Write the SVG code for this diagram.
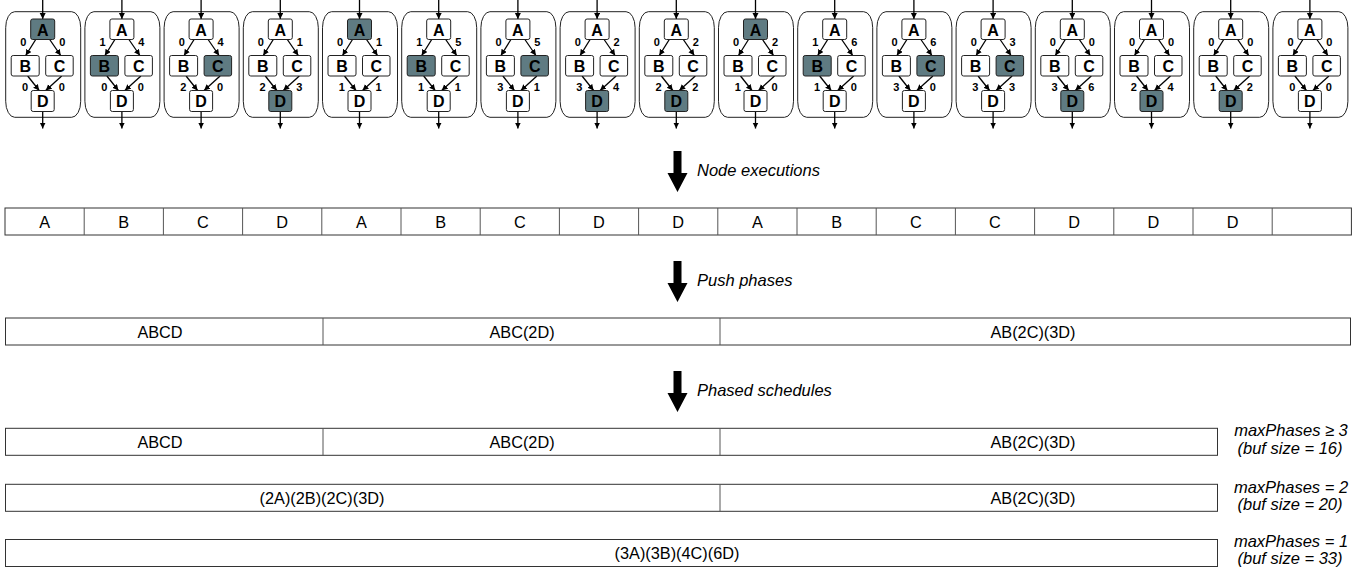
<svg xmlns="http://www.w3.org/2000/svg" xmlns:xlink="http://www.w3.org/1999/xlink" width="1367" height="572" viewBox="0 0 1367 572">
<style>
.panel{fill:#fff;stroke:#222;stroke-width:1}
.n{fill:#fff;stroke:#222;stroke-width:1}
.s{fill:#5f7b82;stroke:#222;stroke-width:1}
.nl{font-family:"Liberation Sans",Arial,sans-serif;font-weight:bold;font-size:16px;text-anchor:middle;fill:#000}
.el{font-family:"Liberation Sans",Arial,sans-serif;font-weight:bold;font-size:11px;text-anchor:middle;fill:#000}
.e{stroke:#000;stroke-width:1.3;fill:none;marker-end:url(#ah)}
.cell{fill:#fff;stroke:#333;stroke-width:1}
.div{stroke:#555;stroke-width:1}
.ct{font-family:"Liberation Sans",Arial,sans-serif;font-size:16.3px;text-anchor:middle;fill:#000}
.it{font-family:"Liberation Sans",Arial,sans-serif;font-style:italic;font-size:16.5px;fill:#000}
.big{fill:#000}
</style>
<defs>
<marker id="ah" markerUnits="userSpaceOnUse" markerWidth="7" markerHeight="7" refX="6" refY="3" orient="auto"><path d="M0,0 L6,3 L0,6 Z" fill="#000"/></marker>
<g id="skel">
<rect class="panel" x="0" y="11.7" width="75" height="105.6" rx="9" ry="16"/>
<g class="connectors">
<line class="e" x1="37" y1="0" x2="37" y2="19"/>
<line class="e" x1="37" y1="111.5" x2="37" y2="128.5"/>
<line class="e" x1="30" y1="39.5" x2="20" y2="55.5"/>
<line class="e" x1="44" y1="39.5" x2="55" y2="55.5"/>
<line class="e" x1="22" y1="76" x2="33.5" y2="90.5"/>
<line class="e" x1="56" y1="76" x2="40" y2="90.5"/>
</g>
</g>
</defs>

<!-- panels -->
<g id="p1" transform="translate(5.7,0)"><use xlink:href="#skel"/>
<rect class="s" x="25" y="19" width="24" height="20.5" rx="2"/><rect class="n" x="5.5" y="55.5" width="28" height="20.5" rx="2"/><rect class="n" x="40" y="55.5" width="27.5" height="20.5" rx="2"/><rect class="n" x="25.5" y="90.5" width="23" height="21" rx="2"/>
<text class="nl" x="37" y="35.5">A</text><text class="nl" x="19.5" y="72.2">B</text><text class="nl" x="53.8" y="72.2">C</text><text class="nl" x="37" y="107.3">D</text>
<text class="el" x="17.6" y="46">0</text><text class="el" x="56.5" y="46">0</text><text class="el" x="19.3" y="90.5">0</text><text class="el" x="56" y="90.5">0</text></g>

<g id="p2" transform="translate(84.9,0)"><use xlink:href="#skel"/>
<rect class="n" x="25" y="19" width="24" height="20.5" rx="2"/><rect class="s" x="5.5" y="55.5" width="28" height="20.5" rx="2"/><rect class="n" x="40" y="55.5" width="27.5" height="20.5" rx="2"/><rect class="n" x="25.5" y="90.5" width="23" height="21" rx="2"/>
<text class="nl" x="37" y="35.5">A</text><text class="nl" x="19.5" y="72.2">B</text><text class="nl" x="53.8" y="72.2">C</text><text class="nl" x="37" y="107.3">D</text>
<text class="el" x="17.6" y="46">1</text><text class="el" x="56.5" y="46">4</text><text class="el" x="19.3" y="90.5">0</text><text class="el" x="56" y="90.5">0</text></g>

<g id="p3" transform="translate(164.1,0)"><use xlink:href="#skel"/>
<rect class="n" x="25" y="19" width="24" height="20.5" rx="2"/><rect class="n" x="5.5" y="55.5" width="28" height="20.5" rx="2"/><rect class="s" x="40" y="55.5" width="27.5" height="20.5" rx="2"/><rect class="n" x="25.5" y="90.5" width="23" height="21" rx="2"/>
<text class="nl" x="37" y="35.5">A</text><text class="nl" x="19.5" y="72.2">B</text><text class="nl" x="53.8" y="72.2">C</text><text class="nl" x="37" y="107.3">D</text>
<text class="el" x="17.6" y="46">0</text><text class="el" x="56.5" y="46">4</text><text class="el" x="19.3" y="90.5">2</text><text class="el" x="56" y="90.5">0</text></g>

<g id="p4" transform="translate(243.3,0)"><use xlink:href="#skel"/>
<rect class="n" x="25" y="19" width="24" height="20.5" rx="2"/><rect class="n" x="5.5" y="55.5" width="28" height="20.5" rx="2"/><rect class="n" x="40" y="55.5" width="27.5" height="20.5" rx="2"/><rect class="s" x="25.5" y="90.5" width="23" height="21" rx="2"/>
<text class="nl" x="37" y="35.5">A</text><text class="nl" x="19.5" y="72.2">B</text><text class="nl" x="53.8" y="72.2">C</text><text class="nl" x="37" y="107.3">D</text>
<text class="el" x="17.6" y="46">0</text><text class="el" x="56.5" y="46">1</text><text class="el" x="19.3" y="90.5">2</text><text class="el" x="56" y="90.5">3</text></g>

<g id="p5" transform="translate(322.5,0)"><use xlink:href="#skel"/>
<rect class="s" x="25" y="19" width="24" height="20.5" rx="2"/><rect class="n" x="5.5" y="55.5" width="28" height="20.5" rx="2"/><rect class="n" x="40" y="55.5" width="27.5" height="20.5" rx="2"/><rect class="n" x="25.5" y="90.5" width="23" height="21" rx="2"/>
<text class="nl" x="37" y="35.5">A</text><text class="nl" x="19.5" y="72.2">B</text><text class="nl" x="53.8" y="72.2">C</text><text class="nl" x="37" y="107.3">D</text>
<text class="el" x="17.6" y="46">0</text><text class="el" x="56.5" y="46">1</text><text class="el" x="19.3" y="90.5">1</text><text class="el" x="56" y="90.5">1</text></g>

<g id="p6" transform="translate(401.7,0)"><use xlink:href="#skel"/>
<rect class="n" x="25" y="19" width="24" height="20.5" rx="2"/><rect class="s" x="5.5" y="55.5" width="28" height="20.5" rx="2"/><rect class="n" x="40" y="55.5" width="27.5" height="20.5" rx="2"/><rect class="n" x="25.5" y="90.5" width="23" height="21" rx="2"/>
<text class="nl" x="37" y="35.5">A</text><text class="nl" x="19.5" y="72.2">B</text><text class="nl" x="53.8" y="72.2">C</text><text class="nl" x="37" y="107.3">D</text>
<text class="el" x="17.6" y="46">1</text><text class="el" x="56.5" y="46">5</text><text class="el" x="19.3" y="90.5">1</text><text class="el" x="56" y="90.5">1</text></g>

<g id="p7" transform="translate(480.9,0)"><use xlink:href="#skel"/>
<rect class="n" x="25" y="19" width="24" height="20.5" rx="2"/><rect class="n" x="5.5" y="55.5" width="28" height="20.5" rx="2"/><rect class="s" x="40" y="55.5" width="27.5" height="20.5" rx="2"/><rect class="n" x="25.5" y="90.5" width="23" height="21" rx="2"/>
<text class="nl" x="37" y="35.5">A</text><text class="nl" x="19.5" y="72.2">B</text><text class="nl" x="53.8" y="72.2">C</text><text class="nl" x="37" y="107.3">D</text>
<text class="el" x="17.6" y="46">0</text><text class="el" x="56.5" y="46">5</text><text class="el" x="19.3" y="90.5">3</text><text class="el" x="56" y="90.5">1</text></g>

<g id="p8" transform="translate(560.1,0)"><use xlink:href="#skel"/>
<rect class="n" x="25" y="19" width="24" height="20.5" rx="2"/><rect class="n" x="5.5" y="55.5" width="28" height="20.5" rx="2"/><rect class="n" x="40" y="55.5" width="27.5" height="20.5" rx="2"/><rect class="s" x="25.5" y="90.5" width="23" height="21" rx="2"/>
<text class="nl" x="37" y="35.5">A</text><text class="nl" x="19.5" y="72.2">B</text><text class="nl" x="53.8" y="72.2">C</text><text class="nl" x="37" y="107.3">D</text>
<text class="el" x="17.6" y="46">0</text><text class="el" x="56.5" y="46">2</text><text class="el" x="19.3" y="90.5">3</text><text class="el" x="56" y="90.5">4</text></g>

<g id="p9" transform="translate(639.3,0)"><use xlink:href="#skel"/>
<rect class="n" x="25" y="19" width="24" height="20.5" rx="2"/><rect class="n" x="5.5" y="55.5" width="28" height="20.5" rx="2"/><rect class="n" x="40" y="55.5" width="27.5" height="20.5" rx="2"/><rect class="s" x="25.5" y="90.5" width="23" height="21" rx="2"/>
<text class="nl" x="37" y="35.5">A</text><text class="nl" x="19.5" y="72.2">B</text><text class="nl" x="53.8" y="72.2">C</text><text class="nl" x="37" y="107.3">D</text>
<text class="el" x="17.6" y="46">0</text><text class="el" x="56.5" y="46">2</text><text class="el" x="19.3" y="90.5">2</text><text class="el" x="56" y="90.5">2</text></g>

<g id="p10" transform="translate(718.5,0)"><use xlink:href="#skel"/>
<rect class="s" x="25" y="19" width="24" height="20.5" rx="2"/><rect class="n" x="5.5" y="55.5" width="28" height="20.5" rx="2"/><rect class="n" x="40" y="55.5" width="27.5" height="20.5" rx="2"/><rect class="n" x="25.5" y="90.5" width="23" height="21" rx="2"/>
<text class="nl" x="37" y="35.5">A</text><text class="nl" x="19.5" y="72.2">B</text><text class="nl" x="53.8" y="72.2">C</text><text class="nl" x="37" y="107.3">D</text>
<text class="el" x="17.6" y="46">0</text><text class="el" x="56.5" y="46">2</text><text class="el" x="19.3" y="90.5">1</text><text class="el" x="56" y="90.5">0</text></g>

<g id="p11" transform="translate(797.7,0)"><use xlink:href="#skel"/>
<rect class="n" x="25" y="19" width="24" height="20.5" rx="2"/><rect class="s" x="5.5" y="55.5" width="28" height="20.5" rx="2"/><rect class="n" x="40" y="55.5" width="27.5" height="20.5" rx="2"/><rect class="n" x="25.5" y="90.5" width="23" height="21" rx="2"/>
<text class="nl" x="37" y="35.5">A</text><text class="nl" x="19.5" y="72.2">B</text><text class="nl" x="53.8" y="72.2">C</text><text class="nl" x="37" y="107.3">D</text>
<text class="el" x="17.6" y="46">1</text><text class="el" x="56.5" y="46">6</text><text class="el" x="19.3" y="90.5">1</text><text class="el" x="56" y="90.5">0</text></g>

<g id="p12" transform="translate(876.9,0)"><use xlink:href="#skel"/>
<rect class="n" x="25" y="19" width="24" height="20.5" rx="2"/><rect class="n" x="5.5" y="55.5" width="28" height="20.5" rx="2"/><rect class="s" x="40" y="55.5" width="27.5" height="20.5" rx="2"/><rect class="n" x="25.5" y="90.5" width="23" height="21" rx="2"/>
<text class="nl" x="37" y="35.5">A</text><text class="nl" x="19.5" y="72.2">B</text><text class="nl" x="53.8" y="72.2">C</text><text class="nl" x="37" y="107.3">D</text>
<text class="el" x="17.6" y="46">0</text><text class="el" x="56.5" y="46">6</text><text class="el" x="19.3" y="90.5">3</text><text class="el" x="56" y="90.5">0</text></g>

<g id="p13" transform="translate(956.1,0)"><use xlink:href="#skel"/>
<rect class="n" x="25" y="19" width="24" height="20.5" rx="2"/><rect class="n" x="5.5" y="55.5" width="28" height="20.5" rx="2"/><rect class="s" x="40" y="55.5" width="27.5" height="20.5" rx="2"/><rect class="n" x="25.5" y="90.5" width="23" height="21" rx="2"/>
<text class="nl" x="37" y="35.5">A</text><text class="nl" x="19.5" y="72.2">B</text><text class="nl" x="53.8" y="72.2">C</text><text class="nl" x="37" y="107.3">D</text>
<text class="el" x="17.6" y="46">0</text><text class="el" x="56.5" y="46">3</text><text class="el" x="19.3" y="90.5">3</text><text class="el" x="56" y="90.5">3</text></g>

<g id="p14" transform="translate(1035.3,0)"><use xlink:href="#skel"/>
<rect class="n" x="25" y="19" width="24" height="20.5" rx="2"/><rect class="n" x="5.5" y="55.5" width="28" height="20.5" rx="2"/><rect class="n" x="40" y="55.5" width="27.5" height="20.5" rx="2"/><rect class="s" x="25.5" y="90.5" width="23" height="21" rx="2"/>
<text class="nl" x="37" y="35.5">A</text><text class="nl" x="19.5" y="72.2">B</text><text class="nl" x="53.8" y="72.2">C</text><text class="nl" x="37" y="107.3">D</text>
<text class="el" x="17.6" y="46">0</text><text class="el" x="56.5" y="46">0</text><text class="el" x="19.3" y="90.5">3</text><text class="el" x="56" y="90.5">6</text></g>

<g id="p15" transform="translate(1114.5,0)"><use xlink:href="#skel"/>
<rect class="n" x="25" y="19" width="24" height="20.5" rx="2"/><rect class="n" x="5.5" y="55.5" width="28" height="20.5" rx="2"/><rect class="n" x="40" y="55.5" width="27.5" height="20.5" rx="2"/><rect class="s" x="25.5" y="90.5" width="23" height="21" rx="2"/>
<text class="nl" x="37" y="35.5">A</text><text class="nl" x="19.5" y="72.2">B</text><text class="nl" x="53.8" y="72.2">C</text><text class="nl" x="37" y="107.3">D</text>
<text class="el" x="17.6" y="46">0</text><text class="el" x="56.5" y="46">0</text><text class="el" x="19.3" y="90.5">2</text><text class="el" x="56" y="90.5">4</text></g>

<g id="p16" transform="translate(1193.7,0)"><use xlink:href="#skel"/>
<rect class="n" x="25" y="19" width="24" height="20.5" rx="2"/><rect class="n" x="5.5" y="55.5" width="28" height="20.5" rx="2"/><rect class="n" x="40" y="55.5" width="27.5" height="20.5" rx="2"/><rect class="s" x="25.5" y="90.5" width="23" height="21" rx="2"/>
<text class="nl" x="37" y="35.5">A</text><text class="nl" x="19.5" y="72.2">B</text><text class="nl" x="53.8" y="72.2">C</text><text class="nl" x="37" y="107.3">D</text>
<text class="el" x="17.6" y="46">0</text><text class="el" x="56.5" y="46">0</text><text class="el" x="19.3" y="90.5">1</text><text class="el" x="56" y="90.5">2</text></g>

<g id="p17" transform="translate(1272.9,0)"><use xlink:href="#skel"/>
<rect class="n" x="25" y="19" width="24" height="20.5" rx="2"/><rect class="n" x="5.5" y="55.5" width="28" height="20.5" rx="2"/><rect class="n" x="40" y="55.5" width="27.5" height="20.5" rx="2"/><rect class="n" x="25.5" y="90.5" width="23" height="21" rx="2"/>
<text class="nl" x="37" y="35.5">A</text><text class="nl" x="19.5" y="72.2">B</text><text class="nl" x="53.8" y="72.2">C</text><text class="nl" x="37" y="107.3">D</text>
<text class="el" x="17.6" y="46">0</text><text class="el" x="56.5" y="46">0</text><text class="el" x="19.3" y="90.5">0</text><text class="el" x="56" y="90.5">0</text></g>

<!-- big arrows -->
<g id="arrows">
<path class="big" d="M673.5,151 H681.5 V173 H687.5 L677.5,192 L667.5,173 H673.5 Z"/>
<path class="big" d="M673.5,261 H681.5 V283 H687.5 L677.5,302 L667.5,283 H673.5 Z"/>
<path class="big" d="M673.5,371 H681.5 V393 H687.5 L677.5,412 L667.5,393 H673.5 Z"/>
</g>
<text class="it" x="697" y="176">Node executions</text>
<text class="it" x="697" y="286">Push phases</text>
<text class="it" x="697" y="396">Phased schedules</text>

<!-- node executions row -->
<g id="exec">
<rect class="cell" x="5" y="208" width="1346.4" height="27"/>
<path class="div" d="M84.2,208V235 M163.4,208V235 M242.6,208V235 M321.8,208V235 M401,208V235 M480.2,208V235 M559.4,208V235 M638.6,208V235 M717.8,208V235 M797,208V235 M876.2,208V235 M955.4,208V235 M1034.6,208V235 M1113.8,208V235 M1193,208V235 M1272.2,208V235"/>
<text class="ct" x="44.6" y="227.5">A</text>
<text class="ct" x="123.8" y="227.5">B</text>
<text class="ct" x="203" y="227.5">C</text>
<text class="ct" x="282.2" y="227.5">D</text>
<text class="ct" x="361.4" y="227.5">A</text>
<text class="ct" x="440.6" y="227.5">B</text>
<text class="ct" x="519.8" y="227.5">C</text>
<text class="ct" x="599" y="227.5">D</text>
<text class="ct" x="678.2" y="227.5">D</text>
<text class="ct" x="757.4" y="227.5">A</text>
<text class="ct" x="836.6" y="227.5">B</text>
<text class="ct" x="915.8" y="227.5">C</text>
<text class="ct" x="995" y="227.5">C</text>
<text class="ct" x="1074.2" y="227.5">D</text>
<text class="ct" x="1153.4" y="227.5">D</text>
<text class="ct" x="1232.6" y="227.5">D</text>
</g>

<!-- push phases row -->
<g id="push">
<rect class="cell" x="5.5" y="318" width="1345" height="27"/>
<path class="div" d="M323,318V345 M720,318V345"/>
<text class="ct" x="160" y="337.5">ABCD</text>
<text class="ct" x="522" y="337.5">ABC(2D)</text>
<text class="ct" x="1033" y="337.5">AB(2C)(3D)</text>
</g>

<!-- phased schedules -->
<g id="ph3">
<rect class="cell" x="5.5" y="428.3" width="1212" height="27"/>
<path class="div" d="M323,428.3V455.3 M720,428.3V455.3"/>
<text class="ct" x="160" y="447.8">ABCD</text>
<text class="ct" x="522" y="447.8">ABC(2D)</text>
<text class="ct" x="1033" y="447.8">AB(2C)(3D)</text>
<text class="it" x="1291" y="436" text-anchor="middle">maxPhases ≥ 3</text>
<text class="it" x="1290" y="453.5" text-anchor="middle">(buf size = 16)</text>
</g>
<g id="ph2">
<rect class="cell" x="5.5" y="484.3" width="1212" height="27"/>
<path class="div" d="M720,484.3V511.3"/>
<text class="ct" x="322" y="503.8">(2A)(2B)(2C)(3D)</text>
<text class="ct" x="1033" y="503.8">AB(2C)(3D)</text>
<text class="it" x="1291" y="492.5" text-anchor="middle">maxPhases = 2</text>
<text class="it" x="1290" y="510" text-anchor="middle">(buf size = 20)</text>
</g>
<g id="ph1">
<rect class="cell" x="5.5" y="539.5" width="1212" height="27"/>
<text class="ct" x="677" y="559">(3A)(3B)(4C)(6D)</text>
<text class="it" x="1291" y="546.5" text-anchor="middle">maxPhases = 1</text>
<text class="it" x="1290" y="564" text-anchor="middle">(buf size = 33)</text>
</g>
</svg>
